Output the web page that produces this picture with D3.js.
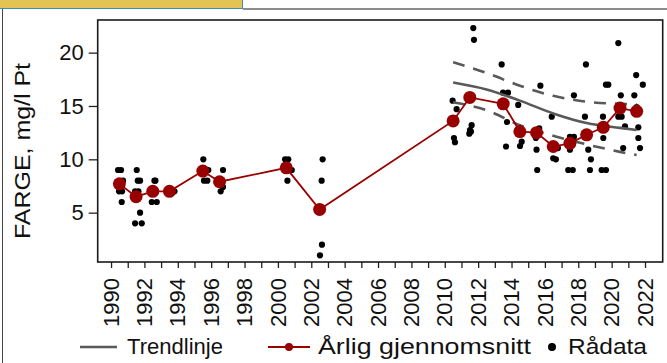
<!DOCTYPE html>
<html>
<head>
<meta charset="utf-8">
<script src="https://cdn.jsdelivr.net/npm/d3@7"></script>
<style>
  html, body { margin: 0; padding: 0; background: #fff; }
  svg { display: block; font-family: "Liberation Sans", Arial, sans-serif; }
</style>
</head>
<body>
<svg id="chart" width="667" height="363"></svg>
<script>
// ---- Data ----
const yearTicks = d3.range(1990, 2023);
const yearLabels = d3.range(1990, 2023, 2);
const valueTicks = [5, 10, 15, 20];

const meanYears  = [1990.5, 1991.5, 1992.5, 1993.5, 1995.5, 1996.5, 2000.5, 2002.5, 2010.5, 2011.5,
                    2013.5, 2014.5, 2015.5, 2016.5, 2017.5, 2018.5, 2019.5, 2020.5, 2021.5];
const meanValues = [7.7, 6.5, 7.0, 7.0, 8.9, 7.9, 9.2, 5.3, 13.6, 15.8,
                    15.2, 12.6, 12.5, 11.2, 11.5, 12.3, 13.0, 14.8, 14.5];

const rawYears = [
  1990.42, 1990.60, 1990.72, 1990.48, 1990.66, 1990.64,
  1991.54, 1991.74, 1991.60, 1991.44, 1991.64, 1991.74, 1991.44, 1991.84,
  1992.60, 1992.66, 1992.44, 1992.70, 1992.44, 1992.74,
  1993.50, 1993.80,
  1995.53, 1995.83, 1995.50, 1995.57, 1995.77,
  1996.71, 1996.53, 1996.71, 1996.57,
  2000.43, 2000.62, 2000.83, 2000.57,
  2002.68, 2002.62, 2002.64, 2002.52,
  2010.47, 2010.71, 2010.55, 2010.61,
  2011.71, 2011.75, 2011.61, 2011.51, 2011.47, 2011.57,
  2013.41, 2013.49, 2013.79, 2013.73, 2013.67,
  2014.40, 2014.61, 2014.51,
  2015.73, 2015.66, 2015.46, 2015.50, 2015.54,
  2016.41, 2016.50, 2016.66, 2016.78,
  2017.74, 2017.50, 2017.74, 2017.50, 2017.40, 2017.67,
  2018.46, 2018.40, 2018.60, 2018.76, 2018.70,
  2019.66, 2019.80, 2019.48, 2019.50, 2019.40, 2019.66,
  2020.40, 2020.55, 2020.40, 2020.60, 2020.80, 2020.69,
  2021.47, 2021.87, 2021.36, 2021.50, 2021.60, 2021.60, 2021.70
];
const rawValues = [
  9, 9, 8, 7, 7, 6,
  9, 8, 8, 7, 7, 5, 4, 4,
  8, 8, 7, 7, 6, 6,
  7, 7,
  10, 9, 9, 8, 8,
  9, 8, 7.4, 7,
  10, 10, 9, 8,
  10, 8, 2, 1,
  15.5, 14.7, 12.0, 11.6,
  22.3, 21.2, 13.2, 12.75, 12.4, 12.6,
  18.9, 16.25, 16.25, 13.5, 11.2,
  15.1, 11.65, 11.25,
  16.9, 12.9, 12, 10.9, 9.0,
  14, 10.1, 10, 11.05,
  16, 12.1, 12.1, 10.9, 9, 9,
  18.9, 14, 10.9, 10, 9,
  17, 17, 14, 12, 9, 9,
  20.9, 16, 14, 14, 13.1, 11.05,
  17.9, 17, 16, 14.9, 13, 12, 11.05
];

const trendYears = [2010.5, 2012.5, 2014.5, 2016.5, 2018.5, 2020.5, 2021.5];
const trendFit   = [17.2, 16.55, 15.5, 14.3, 13.4, 12.95, 12.75];
const trendUpper = [19.1, 18.1, 16.9, 15.95, 15.4, 15.2, 15.15];
const trendLower = [15.35, 14.6, 13.2, 12.2, 11.4, 10.7, 10.4];

const yTitle = "FARGE, mg/l Pt";
const legendLabels = ["Trendlinje", "Årlig gjennomsnitt", "Rådata"];

// ---- Layout ----
const svg = d3.select("#chart");
const plot = { left: 97.7, right: 662.7, top: 20, bottom: 262 };
const red = "#990000";
const gray = "#595959";

const x = d3.scaleLinear().domain([1989.2, 2023.06]).range([plot.left, plot.right]);
const y = d3.scaleLinear().domain([0.375, 23.06]).range([plot.bottom, plot.top]);

// page decorations
svg.append("rect").attr("x", 0).attr("y", 0).attr("width", 242).attr("height", 8)
  .attr("fill", "#E2C354");
svg.append("line").attr("x1", 242.5).attr("x2", 242.5).attr("y1", 0).attr("y2", 9)
  .attr("stroke", "#3d8fb5").attr("stroke-width", 1);
svg.append("line").attr("x1", 0).attr("x2", 243).attr("y1", 8.5).attr("y2", 8.5)
  .attr("stroke", "#3d8fb5").attr("stroke-width", 1);
svg.append("line").attr("x1", 243).attr("x2", 667).attr("y1", 9).attr("y2", 9)
  .attr("stroke", "#8c8c8c").attr("stroke-width", 2);
svg.append("line").attr("x1", 2.5).attr("x2", 2.5).attr("y1", 9).attr("y2", 363)
  .attr("stroke", "#444").attr("stroke-width", 1);

// axes
const yAxis = d3.axisLeft(y).tickValues(valueTicks).tickSize(9).tickPadding(5).tickFormat(d3.format("d"));
const gy = svg.append("g").attr("transform", `translate(${plot.left},0)`).call(yAxis);
gy.select(".domain").remove();
gy.selectAll("line").attr("stroke", "#222").attr("stroke-width", 1.3);
gy.selectAll("text").attr("font-size", 22).attr("fill", "#111");

const xAxis = d3.axisBottom(x).tickValues(yearTicks).tickSize(6).tickFormat("");
const gx = svg.append("g").attr("transform", `translate(0,${plot.bottom})`).call(xAxis);
gx.select(".domain").remove();
gx.selectAll("line").attr("stroke", "#222").attr("stroke-width", 1.3);

svg.append("g").selectAll("text").data(yearLabels).join("text")
  .attr("transform", d => `translate(${x(d)},278) rotate(-90)`)
  .attr("text-anchor", "end").attr("dy", "0.35em")
  .attr("font-size", 22).attr("fill", "#111")
  .text(d => d);

// frame
svg.append("rect").attr("x", plot.left).attr("y", plot.top)
  .attr("width", plot.right - plot.left).attr("height", plot.bottom - plot.top)
  .attr("fill", "none").attr("stroke", "#1a1a1a").attr("stroke-width", 1.6);

// y title
svg.append("text").attr("transform", "translate(22,151) rotate(-90)")
  .attr("text-anchor", "middle").attr("dy", "0.35em")
  .attr("font-size", 22).attr("fill", "#111")
  .attr("textLength", 176).attr("lengthAdjust", "spacingAndGlyphs")
  .text(yTitle);

// raw data
const raw = rawYears.map((yr, i) => ({ yr, v: rawValues[i] }));
svg.append("g").selectAll("circle").data(raw).join("circle")
  .attr("cx", d => x(d.yr)).attr("cy", d => y(d.v)).attr("r", 3.1).attr("fill", "#000");

// trend lines
const trendLine = vals => d3.line().x((d, i) => x(trendYears[i])).y(d => y(d)).curve(d3.curveMonotoneX)(vals);
svg.append("path").attr("d", trendLine(trendUpper)).attr("fill", "none")
  .attr("stroke", gray).attr("stroke-width", 2.6).attr("stroke-dasharray", "12,9");
svg.append("path").attr("d", trendLine(trendLower)).attr("fill", "none")
  .attr("stroke", gray).attr("stroke-width", 2.6).attr("stroke-dasharray", "12,9");
svg.append("path").attr("d", trendLine(trendFit)).attr("fill", "none")
  .attr("stroke", gray).attr("stroke-width", 2.6);

// means
const means = meanYears.map((yr, i) => ({ yr, v: meanValues[i] }));
svg.append("path").datum(means)
  .attr("d", d3.line().x(d => x(d.yr)).y(d => y(d.v)))
  .attr("fill", "none").attr("stroke", red).attr("stroke-width", 1.8);
svg.append("g").selectAll("circle").data(means).join("circle")
  .attr("cx", d => x(d.yr)).attr("cy", d => y(d.v)).attr("r", 6.5).attr("fill", red);

// legend
const lg = svg.append("g").attr("font-size", 22).attr("fill", "#111");
lg.append("line").attr("x1", 80).attr("x2", 117).attr("y1", 347).attr("y2", 347)
  .attr("stroke", gray).attr("stroke-width", 2.6);
lg.append("text").attr("x", 127).attr("y", 354).text(legendLabels[0])
  .attr("textLength", 96).attr("lengthAdjust", "spacingAndGlyphs");
lg.append("line").attr("x1", 268).attr("x2", 310).attr("y1", 347).attr("y2", 347)
  .attr("stroke", red).attr("stroke-width", 1.8);
lg.append("circle").attr("cx", 289).attr("cy", 347).attr("r", 4).attr("fill", red);
lg.append("text").attr("x", 318).attr("y", 354).text(legendLabels[1])
  .attr("textLength", 213).attr("lengthAdjust", "spacingAndGlyphs");
lg.append("circle").attr("cx", 552).attr("cy", 347).attr("r", 4).attr("fill", "#000");
lg.append("text").attr("x", 568).attr("y", 354).text(legendLabels[2])
  .attr("textLength", 79).attr("lengthAdjust", "spacingAndGlyphs");
</script>
</body>
</html>
